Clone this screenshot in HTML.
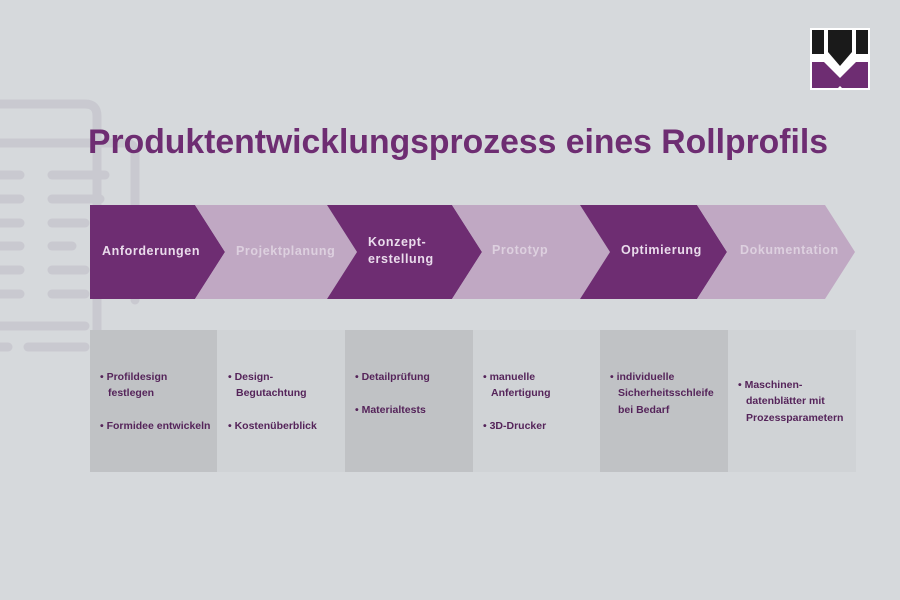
<!DOCTYPE html>
<html><head><meta charset="utf-8"><style>
body{margin:0;width:900px;height:600px;background:#d6d9dc;overflow:hidden;font-family:"Liberation Sans",sans-serif}
</style></head><body>
<svg width="900" height="600" xmlns="http://www.w3.org/2000/svg" style="position:absolute;left:0;top:0">
<rect width="900" height="600" fill="#d6d9dc"/>
<!-- background document icon -->
<g fill="none" stroke="#c9c9d0" stroke-width="9" stroke-linecap="round">
<path d="M-10,104 H85 Q97,104 97,116 V400"/>
<path d="M-10,143 H125 Q135,143 135,153 V300"/>
<line x1="-5" y1="175" x2="20" y2="175"/><line x1="52" y1="175" x2="105" y2="175"/>
<line x1="-5" y1="199" x2="20" y2="199"/><line x1="52" y1="199" x2="100" y2="199"/>
<line x1="-5" y1="223" x2="20" y2="223"/><line x1="52" y1="223" x2="85" y2="223"/>
<line x1="-5" y1="246" x2="20" y2="246"/><line x1="52" y1="246" x2="72" y2="246"/>
<line x1="-5" y1="270" x2="20" y2="270"/><line x1="52" y1="270" x2="85" y2="270"/>
<line x1="-5" y1="294" x2="20" y2="294"/><line x1="52" y1="294" x2="85" y2="294"/>
<line x1="-5" y1="326" x2="85" y2="326"/>
<line x1="-5" y1="347" x2="8" y2="347"/><line x1="28" y1="347" x2="85" y2="347"/>
</g>
<!-- columns -->
<rect x="90" y="330" width="127" height="142" fill="#c0c2c5"/>
<rect x="217" y="330" width="128" height="142" fill="#d0d3d6"/>
<rect x="345" y="330" width="128" height="142" fill="#c0c2c5"/>
<rect x="473" y="330" width="127" height="142" fill="#d0d3d6"/>
<rect x="600" y="330" width="128" height="142" fill="#c0c2c5"/>
<rect x="728" y="330" width="128" height="142" fill="#d0d3d6"/>
<!-- chevrons -->
<polygon points="90,205 195,205 225,252 195,299 90,299" fill="#6e2d72"/>
<polygon points="195,205 327,205 357,252 327,299 195,299 225,252" fill="#c0a8c3"/>
<polygon points="327,205 452,205 482,252 452,299 327,299 357,252" fill="#6e2d72"/>
<polygon points="452,205 580,205 610,252 580,299 452,299 482,252" fill="#c0a8c3"/>
<polygon points="580,205 697,205 727,252 697,299 580,299 610,252" fill="#6e2d72"/>
<polygon points="697,205 825,205 855,252 825,299 697,299 727,252" fill="#c0a8c3"/>
<g font-family="Liberation Sans, sans-serif" font-size="12.5" font-weight="bold" letter-spacing="0.6">
<text x="102" y="255" fill="#eadcec">Anforderungen</text>
<text x="236" y="255" fill="#ddd0df">Projektplanung</text>
<text x="368" y="246" fill="#eadcec">Konzept-</text>
<text x="368" y="263" fill="#eadcec">erstellung</text>
<text x="492" y="254" fill="#ddd0df">Prototyp</text>
<text x="621" y="254" fill="#eadcec">Optimierung</text>
<text x="740" y="254" fill="#ddd0df">Dokumentation</text>
</g>
<g font-family="Liberation Sans, sans-serif" font-size="10.5" font-weight="bold" fill="#55245a">
<text x="100" y="380">•  Profildesign</text><text x="108" y="396">festlegen</text>
<text x="100" y="429">•  Formidee entwickeln</text>
<text x="228" y="380">•  Design-</text><text x="236" y="396">Begutachtung</text>
<text x="228" y="429">•  Kostenüberblick</text>
<text x="355" y="380">•  Detailprüfung</text>
<text x="355" y="413">•   Materialtests</text>
<text x="483" y="380">•  manuelle</text><text x="491" y="396">Anfertigung</text>
<text x="483" y="429">•  3D-Drucker</text>
<text x="610" y="380">•  individuelle</text><text x="618" y="396">Sicherheitsschleife</text><text x="618" y="413">bei Bedarf</text>
<text x="738" y="388">•  Maschinen-</text><text x="746" y="404">datenblätter mit</text><text x="746" y="421">Prozessparametern</text>
</g>
<text x="88" y="153" font-family="Liberation Sans, sans-serif" font-size="34" font-weight="bold" fill="#6e2d72" textLength="740" lengthAdjust="spacingAndGlyphs">Produktentwicklungsprozess eines Rollprofils</text>
<!-- logo -->
<rect x="810" y="28" width="60" height="62" fill="#ffffff"/>
<rect x="812" y="30" width="12" height="24" fill="#1a1a1a"/>
<rect x="856" y="30" width="12" height="24" fill="#1a1a1a"/>
<polygon points="828,30 852,30 852,52 840,66 828,52" fill="#1a1a1a"/>
<polygon points="812,62 824,62 840,78 856,62 868,62 868,88 842,88 840,86 838,88 812,88" fill="#6e2d72"/>
</svg>
</body></html>
